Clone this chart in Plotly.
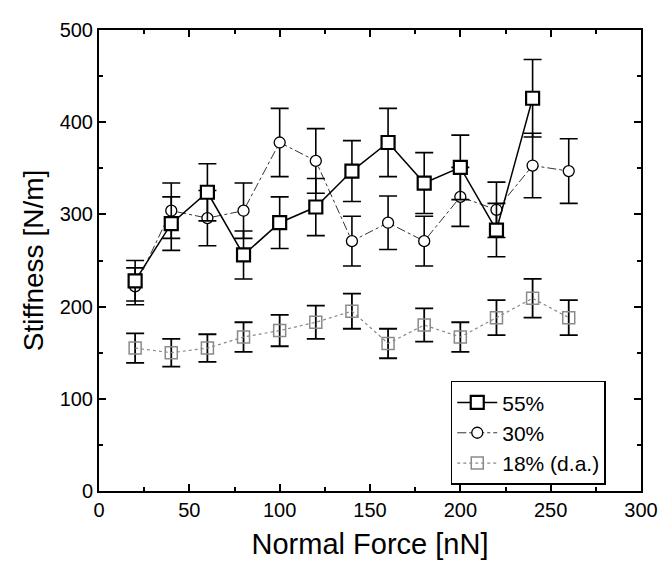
import plotly.graph_objects as go

force_55 = [20, 40, 60, 80, 100, 120, 140, 160, 180, 200, 220, 240]
stiff_55 = [228, 290, 324, 256, 291, 308, 347, 378, 334, 351, 283, 426]
err_55 = [22, 29, 31, 26, 28, 31, 33, 37, 33, 35, 29, 42]

force_30 = [20, 40, 60, 80, 100, 120, 140, 160, 180, 200, 220, 240, 260]
stiff_30 = [222, 304, 296, 304, 378, 358, 271, 291, 271, 319, 305, 353, 347]
err_30 = [20, 30, 30, 30, 37, 35, 27, 29, 27, 32, 30, 35, 35]

force_18 = [20, 40, 60, 80, 100, 120, 140, 160, 180, 200, 220, 240, 260]
stiff_18 = [155, 150, 155, 167, 174, 183, 195, 160, 180, 167, 188, 209, 188]
err_18 = [16, 15, 15, 16, 17, 18, 19, 16, 18, 16, 19, 21, 19]

names = ["55%", "30%", "18% (d.a.)"]

FONT = "Liberation Sans, Arial, sans-serif"

fig = go.Figure()

fig.add_trace(go.Scatter(
    x=force_18, y=stiff_18, name=names[2], legendrank=3,
    mode="lines+markers",
    line=dict(color="#8a8a8a", width=1.2, dash="dot"),
    marker=dict(symbol="square-open", size=12, color="#8a8a8a", line=dict(width=1.5)),
    error_y=dict(type="data", array=err_18, color="black", thickness=1.8, width=9),
))
fig.add_trace(go.Scatter(
    x=force_30, y=stiff_30, name=names[1], legendrank=2,
    mode="lines+markers",
    line=dict(color="#333333", width=1, dash="dashdot"),
    marker=dict(symbol="circle", size=11, color="white", line=dict(color="black", width=1.3)),
    error_y=dict(type="data", array=err_30, color="black", thickness=1.6, width=9),
))
fig.add_trace(go.Scatter(
    x=force_55, y=stiff_55, name=names[0], legendrank=1,
    mode="lines+markers",
    line=dict(color="black", width=1.5),
    marker=dict(symbol="square", size=13, color="white", line=dict(color="black", width=2.2)),
    error_y=dict(type="data", array=err_55, color="black", thickness=1.6, width=9),
))

axis_common = dict(
    showline=True, linecolor="black", linewidth=2, mirror="allticks",
    ticks="inside", ticklen=7, tickwidth=2, tickcolor="black",
    showgrid=False, zeroline=False,
    tickfont=dict(family=FONT, size=20, color="black"),
)

fig.update_xaxes(
    range=[0, 300], tickvals=[0, 50, 100, 150, 200, 250, 300],
    minor=dict(tickvals=[25, 75, 125, 175, 225, 275], ticks="inside", ticklen=4, tickwidth=1.5, tickcolor="black"),
    title=dict(text="Normal Force [nN]", font=dict(family=FONT, size=29, color="black"), standoff=14),
    **axis_common,
)
fig.update_yaxes(
    range=[0, 500], tickvals=[0, 100, 200, 300, 400, 500],
    minor=dict(tickvals=[50, 150, 250, 350, 450], ticks="inside", ticklen=4, tickwidth=1.5, tickcolor="black"),
    title=dict(text="Stiffness [N/m]", font=dict(family=FONT, size=28, color="black"), standoff=8),
    **axis_common,
)

fig.update_layout(
    width=672, height=565,
    margin=dict(l=91, r=39, t=11, b=82),
    plot_bgcolor="white", paper_bgcolor="white",
    font=dict(family=FONT, color="black"),
    legend=dict(
        x=0.649, y=0.239, xanchor="left", yanchor="top",
        bgcolor="white", bordercolor="black", borderwidth=1.5,
        font=dict(family=FONT, size=21, color="black"),
        itemwidth=40, tracegroupgap=0,
    ),
    showlegend=True,
)

fig.write_html("out.html")
